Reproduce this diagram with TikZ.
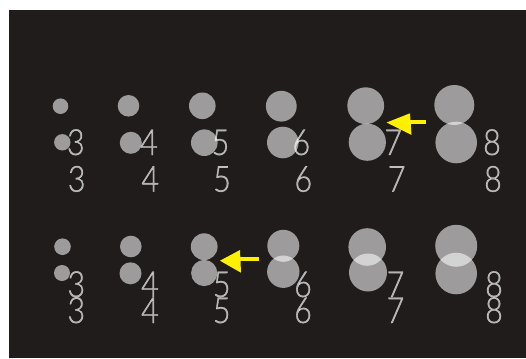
\documentclass[tikz,border=0pt]{standalone}
\usepackage{fontspec}
\IfFontExistsTF{Lato Light}
  {\newfontfamily\digitfont[FakeStretch=0.85,FakeBold=0.8]{Lato Light}}
  {\newfontfamily\digitfont[FakeStretch=0.8]{Liberation Sans}}
\definecolor{bgdark}{RGB}{32,28,28}
\definecolor{arrowyellow}{RGB}{255,240,0}
\tikzset{
  circ/.style={fill=white, fill opacity=0.56},
  digit/.style={anchor=base, inner sep=0pt, text=white, text opacity=0.64, font=\digitfont\fontsize{36}{36}\selectfont},
  yarrow/.style={fill=arrowyellow}
}
\begin{document}
\begin{tikzpicture}[x=1pt,y=-1pt]
\useasboundingbox (0,0) rectangle (526,358);
\fill[white] (0,0) rectangle (526,358);
\fill[bgdark] (9,10) rectangle (526,357.5);
% top group circles
\fill[circ] (60.5,106.2) circle (7.8);
\fill[circ] (62.3,142.3) circle (8.2);
\fill[circ] (128.5,105.8) circle (10.8);
\fill[circ] (130.8,142.8) circle (11);
\fill[circ] (202.3,105.8) circle (13.3);
\fill[circ] (204.3,142.7) circle (13.3);
\fill[circ] (281.3,106.2) circle (15.4);
\fill[circ] (282.8,142.5) circle (15.8);
\fill[circ] (365.7,105.7) circle (18.4);
\fill[circ] (367.3,142.2) circle (18.6);
\fill[circ] (454.3,105) circle (20);
\fill[circ] (456.2,142.5) circle (20.8);
% bottom group circles
\fill[circ] (62.5,246.7) circle (8.3);
\fill[circ] (62,273) circle (8);
\fill[circ] (130.8,246.5) circle (10.8);
\fill[circ] (130.5,273.3) circle (11);
\fill[circ] (204.2,246.7) circle (13.4);
\fill[circ] (204.2,273) circle (13.1);
\fill[circ] (283.3,245.8) circle (16);
\fill[circ] (283.3,271.7) circle (16.2);
\fill[circ] (367.2,247) circle (18.8);
\fill[circ] (368,272.5) circle (19);
\fill[circ] (456.2,245.8) circle (21);
\fill[circ] (456.2,273.5) circle (20.8);
% top digits
\node[digit] (ta3) at (75.8,155) {3};
\node[digit] (ta4) at (149,155) {4};
\node[digit] (ta5) at (220.5,155) {5};
\node[digit] (ta6) at (301.3,155) {6};
\node[digit] (ta7) at (393.3,155) {7};
\node[digit] (ta8) at (492,155) {8};
\node[digit] (tb3) at (76.7,191.7) {3};
\node[digit] (tb4) at (150.3,191.7) {4};
\node[digit] (tb5) at (222,191.7) {5};
\node[digit] (tb6) at (303.3,191.7) {6};
\node[digit] (tb7) at (396.7,191.7) {7};
\node[digit] (tb8) at (493,191.7) {8};
% bottom digits
\node[digit] (ba3) at (76.3,297) {3};
\node[digit] (ba4) at (150,297) {4};
\node[digit] (ba5) at (221.7,297) {5};
\node[digit] (ba6) at (303,297) {6};
\node[digit] (ba7) at (395.5,297) {7};
\node[digit] (ba8) at (494,297) {8};
\node[digit] (bb3) at (76.3,323) {3};
\node[digit] (bb4) at (150,323) {4};
\node[digit] (bb5) at (221.7,323) {5};
\node[digit] (bb6) at (303,323) {6};
\node[digit] (bb7) at (395.5,323) {7};
\node[digit] (bb8) at (494,323) {8};
% arrows
\fill[yarrow] (386.7,122.5) -- (410,113.3) -- (411.5,135) -- cycle;
\fill[yarrow] (408,119.7) rectangle (426,123.7);
\fill[yarrow] (220,260.7) -- (240,250) -- (241,272.7) -- cycle;
\fill[yarrow] (238,257.3) rectangle (259.3,261.3);
\end{tikzpicture}
\end{document}
